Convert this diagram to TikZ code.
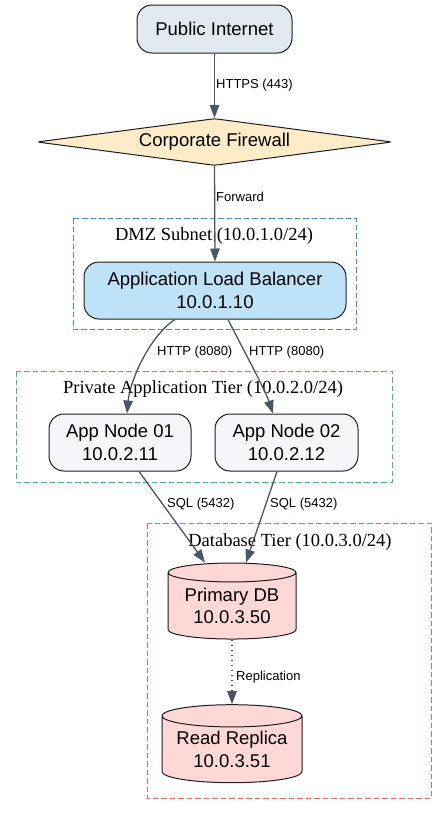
\documentclass[tikz,border=0pt]{standalone}
\usepackage{fontspec}
\setmainfont{Liberation Serif}
\newfontfamily\sansf{Liberation Sans}
\usetikzlibrary{shapes.geometric,arrows.meta}
\definecolor{edgec}{HTML}{4A5568}
\definecolor{inetc}{HTML}{E2E8F0}
\definecolor{fwc}{HTML}{FEEBC8}
\definecolor{albc}{HTML}{BEE3F8}
\definecolor{appc}{HTML}{F4F6FA}
\definecolor{dbc}{HTML}{FED7D7}
\definecolor{dmzc}{HTML}{4A8CCB}
\definecolor{privc}{HTML}{48B878}
\definecolor{dbtc}{HTML}{E53E3E}
\definecolor{borderc}{HTML}{1E1E1E}
\tikzset{
  nodebase/.style={draw=borderc, line width=1pt, inner sep=0pt, align=center,
    font=\sansf\fontsize{18.5}{22.5}\selectfont},
  roundbox/.style={nodebase, rectangle, rounded corners=15pt},
  fwbox/.style={nodebase, diamond, aspect=7.7, rounded corners=3pt, fill=fwc},
  dbbox/.style={nodebase, cylinder, shape border rotate=90, aspect=0.2, fill=dbc},
  cluster/.style={line width=1pt, dash pattern=on 5.5pt off 3pt},
  clabel/.style={font=\fontsize{18.5}{22}\selectfont, inner sep=0pt},
  conn/.style={draw=edgec, line width=1.3pt, -{Triangle[length=13pt,width=9.5pt]}},
  elabel/.style={font=\sansf\fontsize{13}{15}\selectfont, inner sep=0pt, anchor=west},
}
\begin{document}
\begin{tikzpicture}[x=1pt,y=-1pt]
\useasboundingbox (0,0) rectangle (447,815);
% clusters
\draw[cluster, draw=dmzc] (73,218) rectangle (356,329);
\node[clabel] (dmzl) at (214,236) {DMZ Subnet (10.0.1.0/24)};
\draw[cluster, draw=privc] (16,371) rectangle (392,482);
\node[clabel] (privl) at (203,389) {Private Application Tier (10.0.2.0/24)};
\draw[cluster, draw=dbtc!80!white] (147,523) rectangle (431,798);
\node[clabel] (dbl) at (290,542) {Database Tier (10.0.3.0/24)};
% nodes
\node[roundbox, fill=inetc, minimum width=155pt, minimum height=48pt] (inet) at (214.5,29) {Public Internet};
\node[fwbox, minimum width=355pt, minimum height=47pt] (fw) at (214.5,142) {Corporate Firewall};
\node[roundbox, fill=albc, minimum width=262pt, minimum height=57pt] (alb) at (215,290.5) {Application Load Balancer\\10.0.1.10};
\node[roundbox, fill=appc, minimum width=142pt, minimum height=57pt] (app1) at (120,442.5) {App Node 01\\10.0.2.11};
\node[roundbox, fill=appc, minimum width=143pt, minimum height=57pt] (app2) at (286.5,442.5) {App Node 02\\10.0.2.12};
\node[dbbox, minimum width=128pt, minimum height=76pt] (db1) at (232,606) {Primary DB\\10.0.3.50};
\node[dbbox, minimum width=140pt, minimum height=78pt] (db2) at (232,749.5) {Read Replica\\10.0.3.51};
% edges
\draw[conn] (inet.south) -- (fw.north);
\node[elabel] (l1) at (216,85) {HTTPS (443)};
\draw[conn] (fw.south) -- (alb.north);
\node[elabel] (l2) at (216,197) {Forward};
\draw[conn] ([xshift=-40pt]alb.south) .. controls +(-25,16) and +(3,-33) .. ([xshift=7pt]app1.north);
\node[elabel] (l3) at (157,352) {HTTP (8080)};
\draw[conn] ([xshift=13pt]alb.south) .. controls +(12,24) and +(-8,-24) .. ([xshift=-13.5pt]app2.north);
\node[elabel] (l4) at (249,352) {HTTP (8080)};
\draw[conn] ([xshift=19pt]app1.south) -- ([xshift=-27pt]db1.north);
\node[elabel] (l5) at (167,504) {SQL (5432)};
\draw[conn] ([xshift=-9.5pt]app2.south) -- ([xshift=14pt]db1.north);
\node[elabel] (l6) at (270,504) {SQL (5432)};
\draw[conn, dash pattern=on 1pt off 4pt] (db1.south) -- (db2.north);
\node[elabel] (l7) at (236,677) {Replication};
\end{tikzpicture}
\end{document}
